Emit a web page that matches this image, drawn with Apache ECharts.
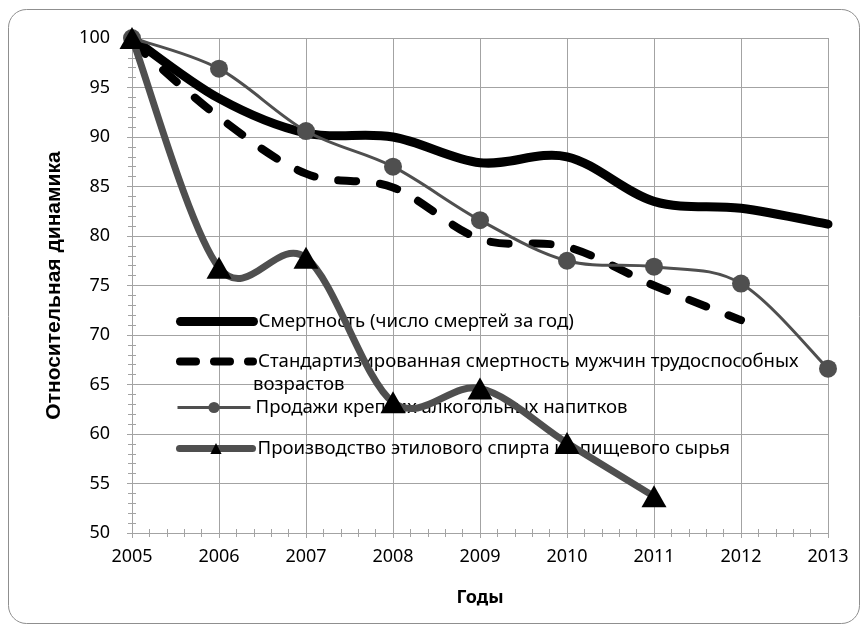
<!DOCTYPE html>
<html>
<head>
<meta charset="utf-8">
<script src="https://cdn.jsdelivr.net/npm/echarts@6/dist/echarts.min.js"></script>
<style>
  html, body { margin: 0; padding: 0; background: #ffffff; }
  #chart { width: 868px; height: 632px; }
</style>
</head>
<body>
<div id="chart"></div>
<script>
// Годы наблюдения
var years = [2005, 2006, 2007, 2008, 2009, 2010, 2011, 2012, 2013];

// Относительная динамика (2005 = 100)
var mortality      = [100, 93.9, 90.4, 90.0, 87.4, 88.0, 83.5, 82.8, 81.2];
var mortalityStd   = [99.6, 92.0, 86.3, 84.9, 79.7, 78.9, 75.0, 71.5, null];
var spiritsSales   = [100, 96.9, 90.6, 87.0, 81.6, 77.5, 76.9, 75.2, 66.6];
var ethanolOutput  = [100, 76.8, 77.8, 63.2, 64.6, 59.1, 53.7, null, null];

var names = [
  'Смертность (число смертей за год)',
  'Стандартизированная смертность мужчин трудоспособных',
  'Продажи крепких алкогольных напитков',
  'Производство этилового спирта из пищевого сырья'
];
var secondLine = 'возрастов';

function pairs(values) {
  var out = [];
  for (var i = 0; i < years.length; i++) {
    if (values[i] !== null) out.push([years[i], values[i]]);
  }
  return out;
}

var FONT = 'Noto Sans';
var GRID_COLOR = '#a3a3a3';
var DARK_GRAY = '#4f4f4f';

// Smoothed curve through the data points (cubic Bézier, Catmull-Rom tangents),
// positions obtained from the cartesian coordinate system.
function curveRenderer(values, style) {
  var data = pairs(values);
  return function (params, api) {
    if (params.dataIndex !== 0) return null;
    var pts = data.map(function (d) { return api.coord(d); });
    var path = 'M' + pts[0][0] + ' ' + pts[0][1];
    for (var i = 0; i < pts.length - 1; i++) {
      var p0 = pts[i - 1] || pts[i];
      var p1 = pts[i];
      var p2 = pts[i + 1];
      var p3 = pts[i + 2] || pts[i + 1];
      var c1x = p1[0] + (p2[0] - p0[0]) / 6;
      var c1y = p1[1] + (p2[1] - p0[1]) / 6;
      var c2x = p2[0] - (p3[0] - p1[0]) / 6;
      var c2y = p2[1] - (p3[1] - p1[1]) / 6;
      path += ' C' + c1x + ' ' + c1y + ' ' + c2x + ' ' + c2y + ' ' + p2[0] + ' ' + p2[1];
    }
    return {
      type: 'path',
      silent: true,
      shape: { pathData: path },
      style: Object.assign({ fill: 'none', lineCap: 'round', lineJoin: 'round' }, style)
    };
  };
}

function curveSeries(values, style, z) {
  return {
    type: 'custom',
    coordinateSystem: 'cartesian2d',
    data: pairs(values),
    renderItem: curveRenderer(values, style),
    silent: true,
    z: z
  };
}

var chart = echarts.init(document.getElementById('chart'), null, { renderer: 'canvas' });

var LEGEND_FONT = 18.6;
var legendText = { fontFamily: FONT, fontSize: LEGEND_FONT, color: '#000', lineHeight: 23 };

function legendAt(item, top) {
  return {
    data: [item],
    left: 176,
    top: top,
    padding: 0,
    itemWidth: 73,
    itemHeight: 14,
    itemGap: 4,
    selectedMode: false,
    z: 1,
    textStyle: legendText
  };
}

var option = {
  animation: false,
  backgroundColor: '#ffffff',
  graphic: [
    {
      type: 'rect',
      shape: { x: 8.5, y: 9.5, width: 851, height: 614, r: 18 },
      style: { fill: 'none', stroke: '#8f8f8f', lineWidth: 1 },
      z: -1
    },
    {
      type: 'text',
      left: 253,
      top: 373,
      z: 1,
      style: { text: secondLine, fontFamily: FONT, fontSize: LEGEND_FONT, fill: '#000', lineHeight: 23 }
    }
  ],
  legend: [
    legendAt({ name: names[0], itemStyle: { opacity: 0 },
               lineStyle: { color: '#000', width: 9, cap: 'round', opacity: 1 } }, 310),
    legendAt({ name: names[1], itemStyle: { opacity: 0 },
               lineStyle: { color: '#000', width: 8, type: [16, 18], cap: 'round', opacity: 1 } }, 350),
    legendAt({ name: names[2], itemStyle: { color: DARK_GRAY },
               lineStyle: { color: DARK_GRAY, width: 3, opacity: 1 } }, 396),
    legendAt({ name: names[3], itemStyle: { color: '#000' },
               lineStyle: { color: DARK_GRAY, width: 7, cap: 'round', opacity: 1 } }, 437)
  ],
  grid: { left: 132, right: 40, top: 38, bottom: 99 },
  xAxis: [
    {
      type: 'value',
      min: 2005, max: 2013, interval: 1,
      name: 'Годы',
      nameLocation: 'middle',
      nameGap: 56,
      nameTextStyle: { fontFamily: FONT, fontSize: 18, fontWeight: 'bold', color: '#000' },
      axisLine: { show: true, onZero: false, lineStyle: { color: GRID_COLOR, width: 1 } },
      axisTick: { show: true, length: 5, lineStyle: { color: GRID_COLOR } },
      minorTick: { show: true, splitNumber: 5, length: 4, lineStyle: { color: GRID_COLOR } },
      axisLabel: { fontFamily: FONT, fontSize: 18, color: '#000', margin: 15,
                   formatter: function (v) { return String(v); } },
      splitLine: { show: true, lineStyle: { color: GRID_COLOR, width: 1 } }
    },
    {
      type: 'value',
      min: 2005, max: 2013, interval: 1,
      position: 'bottom',
      axisLine: { show: false, onZero: false },
      axisTick: { show: true, inside: true, length: 5, lineStyle: { color: GRID_COLOR } },
      minorTick: { show: true, splitNumber: 5, length: 4, lineStyle: { color: GRID_COLOR } },
      axisLabel: { show: false },
      splitLine: { show: false }
    }
  ],
  yAxis: [
    {
      type: 'value',
      min: 50, max: 100, interval: 5,
      name: 'Относительная динамика',
      nameLocation: 'middle',
      nameRotate: 90,
      nameGap: 67,
      nameTextStyle: { fontFamily: 'Liberation Sans', fontSize: 21, fontWeight: 'bold', color: '#000' },
      axisLine: { show: true, lineStyle: { color: GRID_COLOR, width: 1 } },
      axisTick: { show: true, length: 5, lineStyle: { color: GRID_COLOR } },
      minorTick: { show: true, splitNumber: 5, length: 4, lineStyle: { color: GRID_COLOR } },
      axisLabel: { fontFamily: FONT, fontSize: 18, color: '#000', margin: 22 },
      splitLine: { show: true, lineStyle: { color: GRID_COLOR, width: 1 } }
    },
    {
      type: 'value',
      min: 50, max: 100, interval: 5,
      position: 'left',
      axisLine: { show: false },
      axisTick: { show: true, inside: true, length: 5, lineStyle: { color: GRID_COLOR } },
      minorTick: { show: true, splitNumber: 5, length: 4, lineStyle: { color: GRID_COLOR } },
      axisLabel: { show: false },
      splitLine: { show: false }
    }
  ],
  series: [
    // curves
    curveSeries(mortality,     { stroke: '#000', lineWidth: 9 }, 2),
    curveSeries(mortalityStd,  { stroke: '#000', lineWidth: 8, lineDash: [18, 24] }, 3),
    curveSeries(spiritsSales,  { stroke: DARK_GRAY, lineWidth: 3 }, 4),
    curveSeries(ethanolOutput, { stroke: DARK_GRAY, lineWidth: 7 }, 6),
    // legend entries and point markers
    {
      name: names[0], type: 'line', data: pairs(mortality),
      symbol: 'none', showSymbol: false,
      lineStyle: { color: '#000', width: 9, opacity: 0 }, itemStyle: { color: '#000' }, z: 2
    },
    {
      name: names[1], type: 'line', data: pairs(mortalityStd),
      symbol: 'none', showSymbol: false,
      lineStyle: { color: '#000', width: 8, opacity: 0 }, itemStyle: { color: '#000' }, z: 3
    },
    {
      name: names[2], type: 'line', data: pairs(spiritsSales),
      symbol: 'circle', symbolSize: 18, showSymbol: true,
      lineStyle: { color: DARK_GRAY, width: 3, opacity: 0 },
      itemStyle: { color: DARK_GRAY, borderWidth: 0 }, z: 5
    },
    {
      name: names[3], type: 'line', data: pairs(ethanolOutput),
      symbol: 'triangle', symbolSize: [25, 22], showSymbol: true,
      lineStyle: { color: DARK_GRAY, width: 7, opacity: 0 },
      itemStyle: { color: '#000', borderWidth: 0 }, z: 7
    }
  ]
};

chart.setOption(option);
</script>
</body>
</html>
